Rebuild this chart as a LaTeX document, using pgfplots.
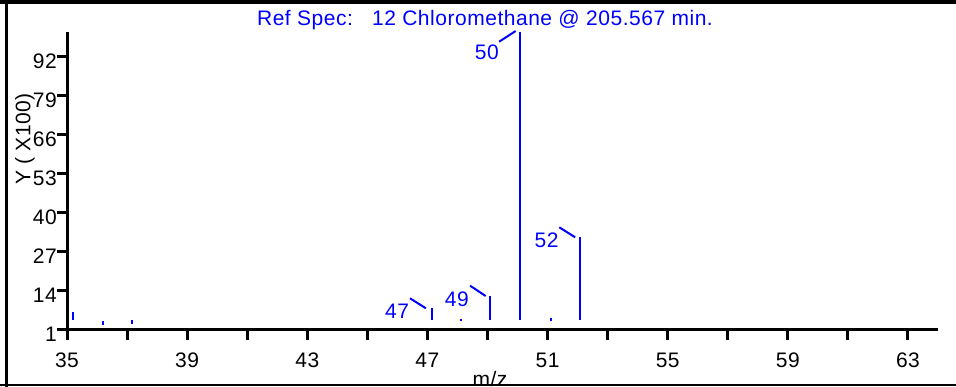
\documentclass[border=0pt]{standalone}
\usepackage{fontspec}
\setmainfont{Liberation Sans}[LetterSpace=2.5]
\usepackage{pgfplots}
\pgfplotsset{compat=1.18}
\newcommand\fs{\fontsize{21}{24}\selectfont}
\begin{document}
\begin{tikzpicture}
\useasboundingbox (0,0) rectangle (956pt,387pt);
\clip (0,0) rectangle (956pt,387pt);
\fill[white] (0,0) rectangle (956pt,387pt);
\begin{axis}[
  at={(67pt,57pt)}, anchor=south west,
  scale only axis, width=871pt, height=298.3pt,
  xmin=35, xmax=64, ymin=1, ymax=100.43,
  clip=false,
  axis x line=bottom, axis y line=left,
  axis line style={-, line width=3pt, black},
  every tick/.style={black, line width=3pt},
  tick align=outside, major tick length=10pt,
  xtick={35,37,...,63},
  xticklabels={35,,39,,43,,47,,51,,55,,59,,63},
  ytick={1,14,27,40,53,66,79,92},
  /pgf/number format/assume math mode=true,
  tick label style={font=\fs, black},
  xticklabel style={inner sep=0pt, anchor=north, yshift=-13pt},
  yticklabel style={inner sep=0pt, anchor=east, xshift=0pt, yshift=-4pt},
]
\addplot[blue, line width=2pt, unbounded coords=jump, mark=none] coordinates {
 (35.19,4.33) (35.19,7.1) (35.19,nan)
 (36.19,2.57) (36.19,4.1) (36.19,nan)
 (37.17,2.9) (37.17,4.23) (37.17,nan)
 (47.14,4.33) (47.14,8.33) (47.14,nan)
 (48.12,4.0) (48.12,4.6) (48.12,nan)
 (49.10,4.33) (49.10,12.33) (49.10,nan)
 (50.09,4.33) (50.09,100.43) (50.09,nan)
 (51.10,4.0) (51.10,4.9) (51.10,nan)
 (52.09,4.33) (52.09,31.9)
};
\draw[blue, line width=2pt] (axis cs:46.42,11.57) -- (axis cs:46.95,8.23);
\draw[blue, line width=2pt] (axis cs:48.42,15.77) -- (axis cs:48.94,12.33);
\draw[blue, line width=2pt] (axis cs:51.39,35.23) -- (axis cs:51.92,31.9);
\draw[blue, line width=2pt] (axis cs:49.39,97.1) -- (axis cs:49.94,100.67);
\node[blue, anchor=base, inner sep=0pt, font=\fs] at (axis cs:45.99,4.9) {47};
\node[blue, anchor=base, inner sep=0pt, font=\fs] at (axis cs:47.98,8.77) {49};
\node[blue, anchor=base, inner sep=0pt, font=\fs] at (axis cs:50.97,28.57) {52};
\node[blue, anchor=base, inner sep=0pt, font=\fs] at (axis cs:48.98,91.2) {50};
\end{axis}
\node[blue, anchor=base, inner sep=0pt, font=\fs] at (485pt,361.3pt) {Ref Spec:\ \ \ 12 Chloromethane @ 205.567 min.};
\node[black, rotate=90, anchor=center, inner sep=0pt, font=\fs] at (25pt,248pt) {Y ( X100)};
\node[black, anchor=base, inner sep=0pt, font=\fs] at (490pt,0.2pt) {m/z};
\fill[black] (0,383pt) rectangle (956pt,387pt);
\draw[black, line width=2.5pt] (6.3pt,0) -- (6.3pt,387pt);
\draw[black, line width=2.5pt] (0,2pt) -- (956pt,2pt);
\end{tikzpicture}
\end{document}
